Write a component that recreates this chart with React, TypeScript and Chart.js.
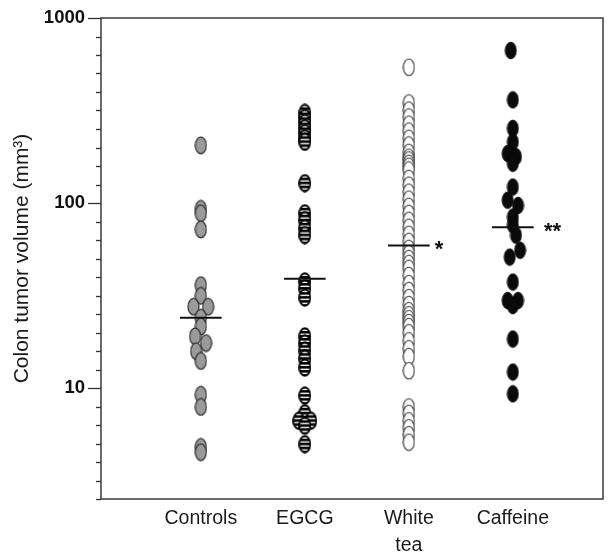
import React, { useEffect, useRef } from 'react';
import { Chart, registerables } from 'chart.js';

Chart.register(...registerables);

// ---------- data ----------
const categories: (string | string[])[] = ['Controls', 'EGCG', ['White', 'tea'], 'Caffeine'];

const controlsValues = [205, 93, 88, 72, 36, 31.5, 27.5, 27.5, 24, 21.5, 19, 17.5, 15.8, 14, 9.2, 7.9, 4.8, 4.5];
const controlsJitter = [0, 0, 0, 0, 0, 0, -0.07, 0.07, 0, 0, -0.055, 0.05, -0.045, 0, 0, 0, 0, 0];

const egcgValues = [307, 288, 271, 254, 239, 224, 214, 128, 88, 80.7, 73, 67, 37.7, 34.5, 30.8, 19, 17.4, 15.9, 14.4, 12.9, 9.1, 7.3, 6.65, 6.65, 6.25, 4.97];
const egcgJitter = [0, 0, 0, 0, 0, 0, 0, 0, 0, 0, 0, 0, 0, 0, 0, 0, 0, 0, 0, 0, 0, 0, -0.058, 0.058, 0, 0];

const whiteTeaValues = [542, 347.5, 318, 292, 267, 245, 224, 206, 188, 177, 171, 164, 158, 151, 136, 125, 114.5, 105, 96, 88, 80.7, 74, 67.8, 62.1, 56.9, 53.5, 50.2, 47.2, 44.4, 40.6, 36.7, 33.7, 30.8, 28.3, 26.2, 24.9, 23.7, 22.6, 21.5, 19.9, 18.0, 16.3, 14.8, 12.4, 7.9, 7.3, 6.65, 6.1, 5.6, 5.1];

const caffeineValues = [667, 361, 253, 214, 185, 178, 164, 122, 103.5, 97, 84, 76, 67, 55.5, 51, 37.4, 29.7, 29.7, 27.9, 18.4, 12.2, 9.3];
const caffeineJitter = [-0.02, 0, 0, 0, -0.05, 0.03, 0, 0, -0.05, 0.05, 0, 0, 0.03, 0.07, -0.03, 0, -0.05, 0.05, 0, 0, 0, 0];

const groupMeans = [24, 39, 59, 74];
const significance = ['', '', '*', '**'];
const significanceOffset = [0, 0, 0.25, 0.3];

const yTickValues: number[] = [];
for (let k = 4; k <= 30; k++) yTickValues.push(Math.pow(10, k / 10));
const yTickLabels = ['10', '100', '1000'];

// ---------- helpers ----------
type MarkerKind = 'gray' | 'striped' | 'open' | 'black';

function makeMarker(kind: MarkerKind): HTMLCanvasElement {
  const c = document.createElement('canvas');
  const w = 13, h = 19;
  c.width = w; c.height = h;
  const ctx = c.getContext('2d')!;
  const cx = w / 2, cy = h / 2, rx = 5.5, ry = 8.3;
  const path = () => { ctx.beginPath(); ctx.ellipse(cx, cy, rx, ry, 0, 0, Math.PI * 2); };
  if (kind === 'gray') {
    path(); ctx.fillStyle = '#9a9a9a'; ctx.fill();
    ctx.lineWidth = 1.2; ctx.strokeStyle = '#2e2e2e'; ctx.stroke();
  } else if (kind === 'open') {
    path(); ctx.fillStyle = '#ffffff'; ctx.fill();
    ctx.lineWidth = 1.1; ctx.strokeStyle = '#333333'; ctx.stroke();
  } else if (kind === 'black') {
    path(); ctx.fillStyle = '#0a0a0a'; ctx.fill();
    ctx.lineWidth = 1; ctx.strokeStyle = '#0a0a0a'; ctx.stroke();
  } else {
    path(); ctx.fillStyle = '#ffffff'; ctx.fill();
    ctx.save(); path(); ctx.clip();
    ctx.fillStyle = '#000000';
    for (let y = 0; y < h; y += 4) ctx.fillRect(0, y, w, 2.6);
    ctx.restore();
    path(); ctx.lineWidth = 1.8; ctx.strokeStyle = '#000000'; ctx.stroke();
  }
  return c;
}

const FONT = '"Liberation Sans", Arial, Helvetica, sans-serif';

export default function App() {
  const ref = useRef<HTMLCanvasElement | null>(null);

  useEffect(() => {
    document.body.style.margin = '0';
    const canvas = ref.current!;
    const toPoints = (vals: number[], jit: number[] | null, idx: number) =>
      vals.map((v, i) => ({ x: idx + 1 + (jit ? jit[i] : 0), y: v }));

    const meanDatasets = groupMeans.map((m, i) => ({
      type: 'line' as const,
      data: [{ x: i + 1 - 0.2, y: m }, { x: i + 1 + 0.2, y: m }],
      borderColor: '#111111',
      borderWidth: 2,
      pointRadius: 0,
      fill: false,
      order: 0,
    }));

    const groupData = [
      { vals: controlsValues, jit: controlsJitter, kind: 'gray' as MarkerKind },
      { vals: egcgValues, jit: egcgJitter, kind: 'striped' as MarkerKind },
      { vals: whiteTeaValues, jit: null, kind: 'open' as MarkerKind },
      { vals: caffeineValues, jit: caffeineJitter, kind: 'black' as MarkerKind },
    ];

    const pointDatasets = groupData.map((g, i) => ({
      type: 'scatter' as const,
      data: toPoints(g.vals, g.jit, i),
      pointStyle: makeMarker(g.kind),
      pointRadius: 6,
      order: 1,
    }));

    const decorPlugin = {
      id: 'decor',
      afterDraw(chart: any) {
        const { ctx, chartArea } = chart;
        const ys = chart.scales.y;
        const xs = chart.scales.x;
        ctx.save();
        // y tick marks
        ctx.strokeStyle = '#333333';
        ctx.lineWidth = 1.3;
        yTickValues.forEach((v) => {
          const lv = Math.log10(v);
          const major = Math.abs(lv - Math.round(lv)) < 1e-9;
          const py = Math.round(ys.getPixelForValue(v)) + 0.5;
          ctx.beginPath();
          ctx.moveTo(chartArea.left - (major ? 13 : 5), py);
          ctx.lineTo(chartArea.left, py);
          ctx.stroke();
        });
        // frame
        ctx.strokeStyle = '#3a3a3a';
        ctx.lineWidth = 1.5;
        ctx.strokeRect(chartArea.left, chartArea.top, chartArea.right - chartArea.left, chartArea.bottom - chartArea.top);
        // significance marks
        ctx.fillStyle = '#111111';
        ctx.font = `bold 22px ${FONT}`;
        ctx.textAlign = 'left';
        ctx.textBaseline = 'alphabetic';
        significance.forEach((s, i) => {
          if (!s) return;
          const m = ctx.measureText(s);
          const px = xs.getPixelForValue(i + 1 + significanceOffset[i]);
          const py = ys.getPixelForValue(groupMeans[i]);
          const asc = m.actualBoundingBoxAscent;
          const desc = m.actualBoundingBoxDescent;
          ctx.fillText(s, px, py - (desc - asc) / 2);
        });
        ctx.restore();
      },
    };

    const chart = new Chart(canvas, {
      type: 'scatter',
      data: { datasets: [...pointDatasets, ...meanDatasets] as any },
      options: {
        animation: false,
        responsive: false,
        devicePixelRatio: 1,
        layout: { padding: { top: 18, right: 9, left: 0, bottom: 0 } },
        plugins: { legend: { display: false }, tooltip: { enabled: false } },
        scales: {
          x: {
            type: 'linear',
            min: 0.04,
            max: 4.867,
            afterBuildTicks: (s: any) => { s.ticks = categories.map((_, i) => ({ value: i + 1 })); },
            afterFit: (s: any) => { s.height = 54; s.paddingLeft = 0; s.paddingRight = 0; },
            grid: { display: false, drawTicks: false },
            border: { display: false },
            ticks: {
              autoSkip: false,
              maxRotation: 0,
              padding: 6,
              color: '#1a1a1a',
              font: { family: FONT, size: 19.5, lineHeight: 1.4 },
              callback: (v: any) => categories[Math.round(Number(v)) - 1] as any,
            },
          },
          y: {
            type: 'logarithmic',
            min: Math.pow(10, 0.4),
            max: 1000,
            afterBuildTicks: (s: any) => { s.ticks = yTickValues.map((v) => ({ value: v })); },
            afterFit: (s: any) => { s.width = 101; s.paddingTop = 0; s.paddingBottom = 0; },
            grid: { display: false, drawTicks: false },
            border: { display: false },
            ticks: {
              autoSkip: false,
              padding: 16,
              color: '#111111',
              font: { family: FONT, size: 18.5, weight: 'bold' },
              callback: (v: any) => {
                const s = String(Math.round(Number(v)));
                const lv = Math.log10(Number(v));
                return Math.abs(lv - Math.round(lv)) < 1e-9 && yTickLabels.includes(s) ? s : '';
              },
            },
            title: {
              display: true,
              text: 'Colon tumor volume (mm³)',
              color: '#1a1a1a',
              font: { family: FONT, size: 21 },
              padding: { top: 10, bottom: 0 },
            },
          },
        },
      },
      plugins: [decorPlugin],
    });

    return () => chart.destroy();
  }, []);

  return (
    <div style={{ position: 'fixed', left: 0, top: 0, width: 612, height: 553, background: '#ffffff' }}>
      <canvas ref={ref} width={612} height={553} />
    </div>
  );
}
